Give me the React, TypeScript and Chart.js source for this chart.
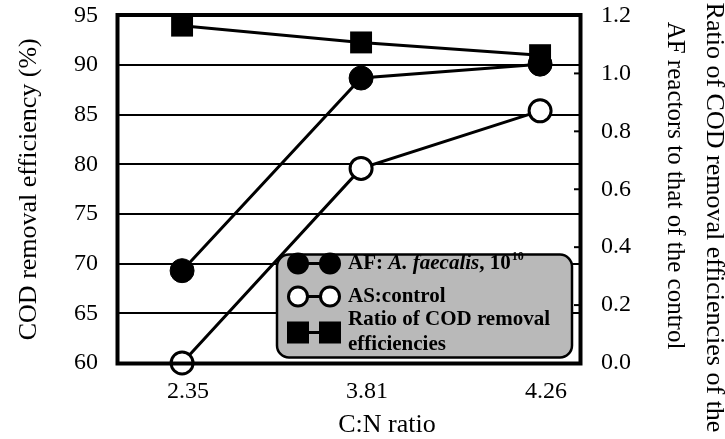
import React, { useEffect, useRef } from 'react';
import { Chart, registerables } from 'chart.js';

Chart.register(...registerables);

// ---- data ----
const cnRatios = ['2.35', '3.81', '4.26'];
const afEfficiency = [69.3, 88.7, 90.1]; // AF: A. faecalis, 10^10 (left axis, %)
const asEfficiency = [60.0, 79.6, 85.4]; // AS: control (left axis, %)
const removalRatio = [1.165, 1.107, 1.063]; // ratio AF/AS (right axis)

const leftTitle = 'COD removal efficiency (%)';
const rightTitleLines = ['Ratio of COD removal efficiencies of the', 'AF reactors to that of the control'];
const xTitle = 'C:N ratio';
const legendRow1 = [
  { text: 'AF: ', style: 'bold' },
  { text: 'A. faecalis', style: 'italic bold' },
  { text: ', 10', style: 'bold' },
];
const legendRow1Sup = '10';
const legendRow2 = 'AS:control';
const legendRow3 = ['Ratio of COD removal', 'efficiencies'];

const SERIF = "'Liberation Serif', 'Times New Roman', serif";

const borderPlugin = {
  id: 'plotBorder',
  afterDraw(chart: any) {
    const { ctx, chartArea, scales } = chart;
    const { left, right, top, bottom } = chartArea;
    ctx.save();
    ctx.strokeStyle = '#000';
    // small inward tick marks on the right axis
    ctx.lineWidth = 2;
    const y1 = scales.y1;
    y1.ticks.forEach((t: any) => {
      const yy = y1.getPixelForValue(t.value);
      if (yy <= top + 2 || yy >= bottom - 2) return;
      ctx.beginPath();
      ctx.moveTo(right - 6, yy);
      ctx.lineTo(right, yy);
      ctx.stroke();
    });
    ctx.lineWidth = 4;
    ctx.strokeRect(left - 0.5, top - 0.5, right - left + 1, bottom - top + 1);
    ctx.restore();
  },
};

const titlesPlugin = {
  id: 'customTitles',
  afterDraw(chart: any) {
    const { ctx, chartArea } = chart;
    ctx.save();
    ctx.fillStyle = '#000';
    ctx.textAlign = 'center';
    ctx.textBaseline = 'middle';
    ctx.font = `26px ${SERIF}`;
    ctx.fillText(xTitle, chartArea.left + 269, chartArea.bottom + 62);
    const spots = [
      { x: chartArea.right + 134, y: chartArea.top + 202, size: 26 },
      { x: chartArea.right + 95, y: chartArea.top + 170, size: 25 },
    ];
    rightTitleLines.forEach((line, i) => {
      ctx.save();
      ctx.font = `${spots[i].size}px ${SERIF}`;
      ctx.translate(spots[i].x, spots[i].y);
      ctx.rotate(Math.PI / 2);
      ctx.fillText(line, 0, 0);
      ctx.restore();
    });
    ctx.restore();
  },
};

function roundRectPath(ctx: CanvasRenderingContext2D, x: number, y: number, w: number, h: number, r: number) {
  ctx.beginPath();
  ctx.moveTo(x + r, y);
  ctx.lineTo(x + w - r, y);
  ctx.arcTo(x + w, y, x + w, y + r, r);
  ctx.lineTo(x + w, y + h - r);
  ctx.arcTo(x + w, y + h, x + w - r, y + h, r);
  ctx.lineTo(x + r, y + h);
  ctx.arcTo(x, y + h, x, y + h - r, r);
  ctx.lineTo(x, y + r);
  ctx.arcTo(x, y, x + r, y, r);
  ctx.closePath();
}

const legendPlugin = {
  id: 'boxLegend',
  afterDatasetsDraw(chart: any) {
    const { ctx, chartArea } = chart;
    const x0 = chartArea.left + 159;
    const y0 = chartArea.top + 239;
    const w = 295;
    const h = 103;
    ctx.save();
    roundRectPath(ctx, x0, y0, w, h, 12);
    ctx.fillStyle = '#b9b9b9';
    ctx.fill();
    ctx.lineWidth = 2.5;
    ctx.strokeStyle = '#000';
    ctx.stroke();

    const mx1 = x0 + 21;
    const mx2 = x0 + 53;
    const tx = x0 + 71;

    // row 1: filled circles
    const r1 = y0 + 9;
    ctx.lineWidth = 3;
    ctx.beginPath();
    ctx.moveTo(mx1, r1);
    ctx.lineTo(mx2, r1);
    ctx.stroke();
    ctx.fillStyle = '#000';
    [mx1, mx2].forEach((mx) => {
      ctx.beginPath();
      ctx.arc(mx, r1, 11, 0, Math.PI * 2);
      ctx.fill();
    });

    // row 2: open circles
    const r2 = y0 + 42;
    ctx.beginPath();
    ctx.moveTo(mx1, r2);
    ctx.lineTo(mx2, r2);
    ctx.stroke();
    [mx1, mx2].forEach((mx) => {
      ctx.beginPath();
      ctx.arc(mx, r2, 9.5, 0, Math.PI * 2);
      ctx.fillStyle = '#fff';
      ctx.fill();
      ctx.lineWidth = 3;
      ctx.strokeStyle = '#000';
      ctx.stroke();
    });

    // row 3: squares
    const r3 = y0 + 78;
    ctx.beginPath();
    ctx.moveTo(mx1, r3);
    ctx.lineTo(mx2, r3);
    ctx.stroke();
    ctx.fillStyle = '#000';
    [mx1, mx2].forEach((mx) => {
      ctx.fillRect(mx - 11, r3 - 11, 22, 22);
    });

    // texts
    ctx.fillStyle = '#000';
    ctx.textAlign = 'left';
    ctx.textBaseline = 'middle';
    let cx = tx;
    legendRow1.forEach((p) => {
      ctx.font = `${p.style} 21px ${SERIF}`;
      ctx.fillText(p.text, cx, r1);
      cx += ctx.measureText(p.text).width;
    });
    ctx.font = `bold 12px ${SERIF}`;
    ctx.fillText(legendRow1Sup, cx + 1, r1 - 7);

    ctx.font = `bold 21px ${SERIF}`;
    ctx.fillText(legendRow2, tx, r2);
    ctx.fillText(legendRow3[0], tx, y0 + 65);
    ctx.fillText(legendRow3[1], tx, y0 + 90);
    ctx.restore();
  },
};

export default function App() {
  const canvasRef = useRef<HTMLCanvasElement | null>(null);

  useEffect(() => {
    if (!canvasRef.current) return;
    Chart.defaults.font.family = SERIF;
    Chart.defaults.color = '#000';

    const toPts = (arr: number[]) => arr.map((v, i) => ({ x: i, y: v }));

    const chart = new Chart(canvasRef.current, {
      type: 'line',
      data: {
        datasets: [
          {
            label: 'AF: A. faecalis, 10¹⁰',
            data: toPts(afEfficiency),
            yAxisID: 'y',
            borderColor: '#000',
            backgroundColor: '#000',
            borderWidth: 3,
            pointStyle: 'circle',
            pointRadius: 12,
            pointBorderWidth: 1,
            pointBackgroundColor: '#000',
            pointBorderColor: '#000',
            clip: false,
          },
          {
            label: 'AS:control',
            data: toPts(asEfficiency),
            yAxisID: 'y',
            borderColor: '#000',
            backgroundColor: '#fff',
            borderWidth: 3,
            pointStyle: 'circle',
            pointRadius: 11,
            pointBorderWidth: 3,
            pointBackgroundColor: '#fff',
            pointBorderColor: '#000',
            clip: false,
          },
          {
            label: 'Ratio of COD removal efficiencies',
            data: toPts(removalRatio),
            yAxisID: 'y1',
            borderColor: '#000',
            backgroundColor: '#000',
            borderWidth: 3,
            pointStyle: 'rect',
            pointRadius: 15.5,
            pointBorderWidth: 0,
            pointBackgroundColor: '#000',
            clip: false,
          },
        ],
      } as any,
      options: {
        animation: false,
        responsive: true,
        maintainAspectRatio: false,
        layout: { padding: { top: 13, left: 0, right: 0, bottom: 0 } },
        plugins: {
          legend: { display: false },
          tooltip: { enabled: false },
        },
        scales: {
          x: {
            type: 'linear',
            min: -0.358,
            max: 2.223,
            afterBuildTicks: (scale: any) => {
              scale.ticks = cnRatios.map((_, i) => ({ value: i }));
            },
            afterFit: (scale: any) => {
              scale.height = 76;
            },
            ticks: {
              callback: (v: any) => cnRatios[Number(v)] ?? '',
              font: { size: 24 },
              color: '#000',
              padding: 14,
              labelOffset: 6,
              maxRotation: 0,
              autoSkip: false,
            },
            grid: { display: false, drawTicks: false },
            border: { display: false },
          },
          y: {
            type: 'linear',
            position: 'left',
            min: 60,
            max: 95,
            afterFit: (scale: any) => {
              scale.width = 118;
            },
            ticks: {
              stepSize: 5,
              font: { size: 24, lineHeight: 1 },
              color: '#000',
              padding: 0,
            },
            grid: {
              color: '#000',
              lineWidth: 2,
              drawTicks: true,
              tickLength: 20,
              tickColor: 'rgba(0,0,0,0)',
            },
            border: { display: false },
            title: {
              display: true,
              text: leftTitle,
              font: { size: 26 },
              color: '#000',
              padding: { top: 14, bottom: 0 },
            },
          },
          y1: {
            type: 'linear',
            position: 'right',
            min: 0,
            max: 1.2,
            afterFit: (scale: any) => {
              scale.width = 145;
            },
            ticks: {
              stepSize: 0.2,
              font: { size: 24, lineHeight: 1 },
              color: '#000',
              padding: 0,
              callback: (v: any) => Number(v).toFixed(1),
            },
            grid: {
              display: true,
              drawOnChartArea: false,
              drawTicks: true,
              tickLength: 21,
              tickColor: 'rgba(0,0,0,0)',
            },
            border: { display: false },
          },
        },
      } as any,
      plugins: [legendPlugin, borderPlugin, titlesPlugin],
    });

    return () => chart.destroy();
  }, []);

  return (
    <div style={{ position: 'fixed', left: 0, top: 0, width: 725, height: 439, background: '#fff' }}>
      <canvas ref={canvasRef} />
    </div>
  );
}
